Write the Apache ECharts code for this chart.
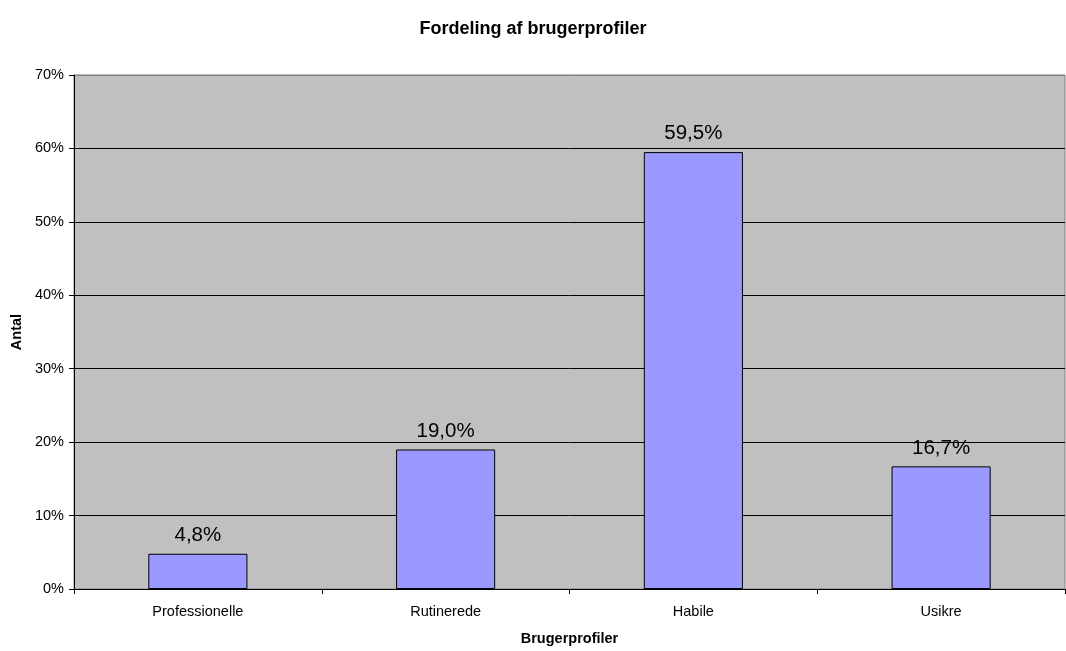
<!DOCTYPE html>
<html><head><meta charset="utf-8">
<script src="https://cdn.jsdelivr.net/npm/echarts@6/dist/echarts.min.js"></script>
<style>html,body{margin:0;padding:0;background:#fff}#c{width:1066px;height:651px}</style>
</head><body><div id="c"></div>
<script>
const categories = ['Professionelle', 'Rutinerede', 'Habile', 'Usikre'];
const values = [4.8, 19.0, 59.5, 16.7];
const yTicks = [0, 10, 20, 30, 40, 50, 60, 70];

const chart = echarts.init(document.getElementById('c'));
const F = 'Arial, "Liberation Sans", sans-serif';
chart.setOption({
  animation: false,
  title: {
    text: 'Fordeling af brugerprofiler', left: 'center', top: 15,
    textStyle: { fontFamily: F, fontSize: 18, fontWeight: 'bold', color: '#000' }
  },
  grid: {
    left: 74, right: 1, top: 75, bottom: 55, show: true,
    backgroundColor: '#C0C0C0', borderColor: '#808080', borderWidth: 1
  },
  xAxis: {
    type: 'category', data: categories,
    name: 'Brugerprofiler', nameLocation: 'middle', nameGap: 42,
    nameTextStyle: { fontFamily: F, fontSize: 14.5, fontWeight: 'bold', color: '#000' },
    axisLine: { lineStyle: { color: '#000', width: 1 } },
    axisTick: { show: true, length: 5, lineStyle: { color: '#000' } },
    axisLabel: { fontFamily: F, fontSize: 14.5, color: '#000', margin: 15 }
  },
  yAxis: {
    type: 'value', min: yTicks[0], max: yTicks[yTicks.length - 1], interval: 10,
    name: 'Antal', nameLocation: 'middle', nameGap: 50, nameRotate: 90,
    nameTextStyle: { fontFamily: F, fontSize: 14.5, fontWeight: 'bold', color: '#000' },
    axisLine: { show: true, lineStyle: { color: '#000', width: 1 } },
    axisTick: { show: true, length: 5, lineStyle: { color: '#000' } },
    axisLabel: { fontFamily: F, fontSize: 14.5, color: '#000', margin: 10, formatter: v => v + '%' },
    splitLine: { show: true, lineStyle: { color: ['#000','#000','#000','#000','#000','#000','#000','#808080'], width: 1 } }
  },
  series: [{
    type: 'bar', data: values, barWidth: '40%',
    itemStyle: { color: '#9999FF', borderColor: '#000', borderWidth: 1 },
    label: {
      show: true, position: 'top', distance: 8,
      fontFamily: F, fontSize: 20.5, color: '#000',
      formatter: p => p.value.toFixed(1).replace('.', ',') + '%'
    }
  }]
});
</script></body></html>
